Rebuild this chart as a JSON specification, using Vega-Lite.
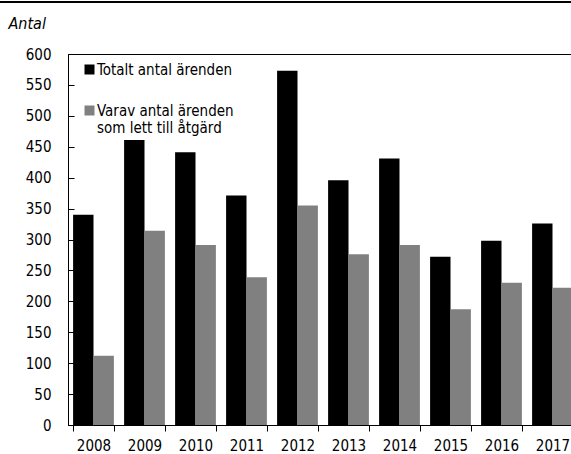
{
  "$schema": "https://vega.github.io/schema/vega-lite/v6.json",
  "autosize": {"type": "none"},
  "width": 503,
  "height": 371,
  "padding": {"left": 68, "top": 54, "right": 0, "bottom": 29},
  "background": "white",
  "config": {
    "font": "DejaVu Sans Condensed, sans-serif",
    "view": {"stroke": "black", "strokeWidth": 1},
    "axis": {"labelFont": "DejaVu Sans Condensed, sans-serif", "labelFontSize": 15, "labelColor": "black", "domainColor": "black", "tickColor": "black", "grid": false}
  },
  "data": {"values": [
    {"year": "2008", "series": "Totalt antal ärenden", "value": 340},
    {"year": "2008", "series": "Varav antal ärenden som lett till åtgärd", "value": 112},
    {"year": "2009", "series": "Totalt antal ärenden", "value": 461},
    {"year": "2009", "series": "Varav antal ärenden som lett till åtgärd", "value": 314},
    {"year": "2010", "series": "Totalt antal ärenden", "value": 441},
    {"year": "2010", "series": "Varav antal ärenden som lett till åtgärd", "value": 291},
    {"year": "2011", "series": "Totalt antal ärenden", "value": 371},
    {"year": "2011", "series": "Varav antal ärenden som lett till åtgärd", "value": 239},
    {"year": "2012", "series": "Totalt antal ärenden", "value": 573},
    {"year": "2012", "series": "Varav antal ärenden som lett till åtgärd", "value": 355},
    {"year": "2013", "series": "Totalt antal ärenden", "value": 396},
    {"year": "2013", "series": "Varav antal ärenden som lett till åtgärd", "value": 276},
    {"year": "2014", "series": "Totalt antal ärenden", "value": 431},
    {"year": "2014", "series": "Varav antal ärenden som lett till åtgärd", "value": 291},
    {"year": "2015", "series": "Totalt antal ärenden", "value": 272},
    {"year": "2015", "series": "Varav antal ärenden som lett till åtgärd", "value": 187},
    {"year": "2016", "series": "Totalt antal ärenden", "value": 298},
    {"year": "2016", "series": "Varav antal ärenden som lett till åtgärd", "value": 230},
    {"year": "2017", "series": "Totalt antal ärenden", "value": 326},
    {"year": "2017", "series": "Varav antal ärenden som lett till åtgärd", "value": 222}
  ]},
  "layer": [
    {
      "mark": {"type": "bar"},
      "encoding": {
        "x": {
          "field": "year", "type": "ordinal",
          "scale": {"range": [0, 510], "paddingInner": 0.2, "paddingOuter": 0.1},
          "axis": {"title": null, "labelAngle": 0, "tickBand": "extent", "tickSize": 6, "labelPadding": 7, "domainWidth": 1}
        },
        "xOffset": {"field": "series", "type": "nominal", "scale": {"paddingInner": 0, "paddingOuter": 0}},
        "y": {
          "field": "value", "type": "quantitative",
          "scale": {"domain": [0, 600], "nice": false},
          "axis": {
            "values": [0, 50, 100, 150, 200, 250, 300, 350, 400, 450, 500, 550, 600],
            "tickSize": -6, "labelPadding": 23,
            "title": "Antal", "titleAngle": 0, "titleAlign": "left", "titleBaseline": "middle",
            "titleX": -60, "titleY": -31, "titleFontStyle": "italic", "titleFontWeight": "normal", "titleFontSize": 16,
            "titleFont": "DejaVu Sans Condensed, sans-serif", "titleColor": "black"
          }
        },
        "color": {
          "field": "series", "type": "nominal",
          "scale": {"domain": ["Totalt antal ärenden", "Varav antal ärenden som lett till åtgärd"], "range": ["#000000", "#808080"]},
          "legend": {
            "title": null, "orient": "none", "legendX": 14, "legendY": 8,
            "symbolType": "square", "symbolSize": 100, "symbolStrokeWidth": 0, "symbolOpacity": 1,
            "labelFontSize": 15, "labelColor": "black", "labelOffset": 0, "labelLimit": 300,
            "labelBaseline": "middle", "rowPadding": 25,
            "labelExpr": "datum.label == 'Varav antal ärenden som lett till åtgärd' ? ['Varav antal ärenden', 'som lett till åtgärd'] : datum.label"
          }
        }
      }
    },
    {
      "mark": {"type": "rule", "color": "black", "strokeWidth": 1.5},
      "encoding": {
        "x": {"value": -68},
        "x2": {"value": 503},
        "y": {"value": -52}
      }
    }
  ]
}
